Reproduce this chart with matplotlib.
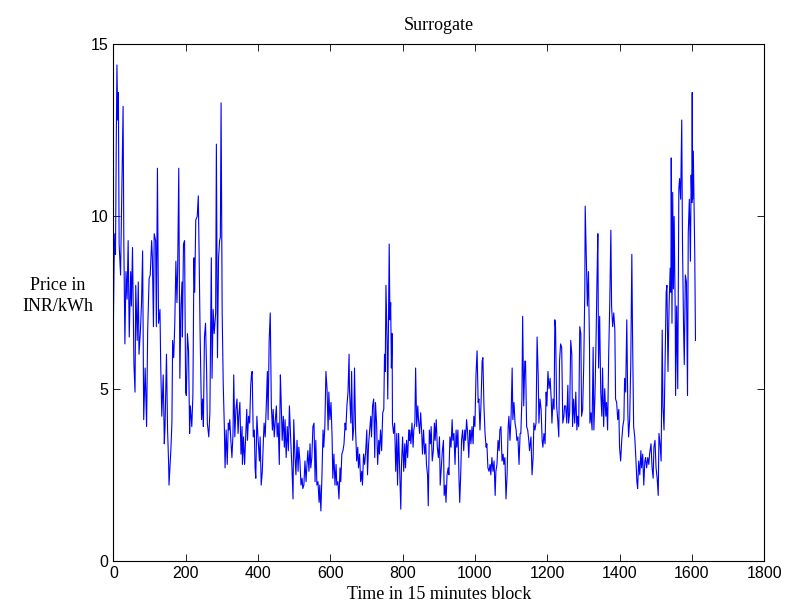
import matplotlib
matplotlib.use("Agg")
import matplotlib.pyplot as plt

# %%
# time block / price pairs, segment by segment
block_a = [0, 2, 4, 6, 8, 10, 12, 14, 16, 20, 24, 27, 29, 32, 35, 38, 41, 44, 48, 50,
           53, 57, 60, 62, 66, 69, 71, 75, 78, 81, 84, 88, 92, 95, 99, 102, 106, 108, 111, 113,
           117, 119, 122, 125, 129, 131, 134, 138, 141, 143, 147, 150, 153, 154]
price_a = [6.7, 8.6, 9.5, 8.9, 12.0, 14.4, 12.8, 13.6, 9.2, 8.3, 11.0, 13.2, 9.3, 6.3, 8.4, 7.6, 9.3, 6.5, 8.4, 7.4,
           9.1, 5.7, 4.9, 8.0, 6.4, 8.1, 6.0, 6.7, 7.5, 9.0, 4.1, 5.6, 3.9, 6.7, 8.2, 8.3, 9.3, 8.8, 6.8, 9.5,
           9.3, 6.8, 11.4, 6.9, 7.3, 5.7, 4.2, 5.4, 3.4, 3.9, 6.0, 3.8, 2.8, 2.2]

block_b = [159, 162, 164, 167, 170, 173, 176, 178, 181, 184, 187, 190, 191, 194, 197, 200, 202, 205, 208, 211,
           213, 217, 220, 223, 225, 228, 232, 235, 237, 240, 244, 247, 249, 252, 255, 258, 260, 264, 267, 271,
           273, 276, 279, 283, 285, 288, 291, 294, 296, 298, 301, 304, 307, 309, 312, 315, 318, 320]
price_b = [3.2, 4.0, 6.4, 5.9, 6.9, 8.7, 7.5, 8.5, 11.4, 5.3, 7.4, 8.1, 6.5, 9.2, 9.3, 4.9, 4.8, 6.6, 6.1, 3.7,
           4.5, 3.9, 4.8, 8.8, 7.8, 9.9, 10.0, 10.6, 9.1, 6.6, 4.1, 4.7, 3.9, 6.5, 6.9, 5.5, 4.0, 3.6, 4.3, 8.8,
           5.3, 7.3, 6.6, 7.2, 12.1, 5.9, 8.8, 9.3, 9.4, 13.3, 7.2, 5.1, 3.9, 2.7, 3.8, 2.8, 4.0, 3.8]

block_c = [322, 325, 328, 331, 333, 336, 339, 342, 345, 347, 350, 353, 356, 357, 360, 363, 366, 369, 371, 374,
           377, 380, 382, 384, 387, 390, 392, 394, 397, 400, 404, 406, 409, 412, 415, 417, 420, 423, 426, 428,
           431, 434, 437, 440, 442, 445, 448, 451, 453, 456, 459, 462, 464, 467, 470, 473, 475, 478, 481, 484, 487]
price_c = [4.1, 3.5, 3.0, 3.7, 5.4, 3.6, 4.4, 4.7, 3.7, 4.2, 4.6, 3.1, 3.9, 2.8, 3.6, 2.8, 3.6, 4.4, 3.5, 4.2,
           4.0, 5.1, 5.4, 5.5, 3.6, 3.8, 2.7, 2.4, 4.2, 3.6, 2.9, 3.6, 2.2, 2.6, 3.5, 4.0, 3.6, 4.5, 5.5, 4.1,
           6.4, 7.2, 4.5, 3.8, 4.4, 3.6, 4.1, 4.5, 3.6, 4.0, 2.8, 5.4, 4.7, 3.5, 4.2, 3.3, 4.1, 3.0, 3.9, 3.2, 4.5]

block_d = [491, 494, 497, 499, 502, 505, 508, 511, 513, 516, 519, 522, 524, 527, 530, 533, 535, 538, 541, 544,
           546, 549, 552, 555, 558, 560, 563, 566, 569, 571, 574, 577, 580, 582, 585, 588, 591, 594, 596, 599,
           602, 605, 607, 610, 613, 616, 618, 621, 624, 627, 629, 632, 635, 638, 641, 643, 646, 649, 652, 653]
price_d = [3.4, 2.7, 1.8, 4.1, 3.1, 2.5, 3.5, 2.6, 3.3, 2.9, 2.2, 2.4, 2.1, 2.2, 2.9, 2.3, 2.7, 3.2, 2.6, 3.4,
           2.7, 3.0, 3.9, 4.0, 2.3, 3.5, 2.2, 2.3, 1.7, 2.2, 1.45, 2.5, 3.8, 3.3, 3.9, 5.5, 5.0, 3.8, 4.9, 4.1,
           4.6, 3.6, 2.4, 3.1, 2.2, 2.8, 2.2, 2.3, 1.8, 2.7, 2.3, 3.1, 3.2, 3.4, 4.0, 3.8, 4.5, 4.9, 6.0, 5.0]

block_e = [657, 659, 662, 665, 667, 670, 673, 676, 678, 681, 684, 687, 689, 692, 695, 698, 701, 703, 706, 709,
           712, 714, 717, 720, 723, 725, 728, 731, 734, 736, 739, 742, 745, 748, 750, 752, 754, 757, 759, 761,
           763, 765, 767, 769, 771, 772, 775, 778, 781, 784, 786, 789, 792, 795, 797, 800, 803, 806, 808, 811,
           814, 817, 819]
price_e = [4.0, 5.5, 3.5, 3.9, 5.6, 3.8, 2.9, 3.3, 2.7, 3.1, 2.3, 2.6, 2.2, 3.1, 2.8, 3.2, 3.8, 2.5, 3.4, 3.8,
           4.2, 3.6, 4.5, 4.7, 3.0, 4.6, 4.0, 2.8, 3.5, 3.1, 3.8, 3.2, 4.3, 4.4, 6.0, 5.5, 8.0, 6.4, 4.7, 7.1,
           9.2, 7.0, 7.5, 5.6, 6.6, 4.0, 3.7, 4.0, 2.6, 3.7, 2.2, 3.7, 2.6, 1.5, 2.8, 3.6, 2.6, 3.4, 2.7, 3.5,
           3.0, 3.8, 3.5]

block_f = [820, 823, 826, 829, 831, 834, 836, 839, 842, 844, 847, 850, 853, 855, 858, 861, 864, 866, 869, 871,
           874, 877, 879, 882, 885, 888, 890, 893, 896, 899, 902, 904, 907, 910, 913, 915, 918, 920, 923, 926,
           928, 931, 934, 937, 939, 942, 945, 948, 950, 953, 956, 958, 961, 963, 966, 969, 972, 974, 977, 980,
           983, 985]
price_f = [3.8, 3.4, 4.0, 3.3, 3.8, 4.0, 5.6, 3.9, 4.5, 4.1, 3.7, 4.3, 3.7, 3.1, 3.8, 3.1, 3.4, 2.8, 2.5, 1.6,
           3.8, 3.4, 3.9, 2.9, 3.2, 4.0, 3.5, 4.1, 3.3, 3.0, 3.6, 2.2, 2.7, 3.2, 3.5, 1.9, 2.2, 1.7, 2.5, 2.7,
           2.5, 3.6, 3.3, 4.1, 3.5, 3.7, 2.8, 3.8, 3.3, 3.8, 2.4, 1.7, 2.6, 3.5, 3.8, 3.2, 3.8, 3.5, 4.1, 3.7,
           3.0, 3.6]

block_g = [986, 989, 992, 995, 997, 1000, 1003, 1006, 1009, 1011, 1014, 1017, 1020, 1022, 1025, 1028, 1031, 1033, 1036, 1039,
           1042, 1044, 1047, 1050, 1053, 1056, 1058, 1061, 1064, 1067, 1069, 1072, 1075, 1078, 1080, 1083, 1086, 1089, 1092, 1094,
           1097, 1100, 1103, 1105, 1108, 1111, 1114, 1116, 1119, 1122, 1125, 1127, 1130, 1132, 1135, 1138, 1140, 1143, 1146, 1149,
           1151]
price_g = [3.8, 3.4, 3.9, 3.4, 4.2, 3.9, 5.4, 6.1, 4.6, 4.7, 3.8, 4.6, 5.8, 5.9, 4.5, 3.7, 3.3, 3.4, 2.7, 2.6,
           2.8, 2.5, 3.0, 2.6, 2.9, 1.9, 2.6, 2.8, 3.5, 3.2, 3.8, 3.9, 2.9, 3.1, 2.8, 3.0, 1.8, 2.5, 3.9, 4.2,
           3.5, 4.2, 5.6, 4.1, 4.6, 4.0, 3.8, 3.5, 3.6, 2.8, 3.7, 3.7, 4.7, 7.1, 4.5, 5.8, 5.8, 3.9, 3.8, 3.5,
           3.2]

block_h = [1155, 1158, 1161, 1163, 1166, 1169, 1172, 1175, 1177, 1180, 1183, 1186, 1188, 1191, 1194, 1197, 1199, 1202, 1205, 1208,
           1211, 1213, 1216, 1219, 1221, 1223, 1226, 1229, 1232, 1234, 1237, 1240, 1243, 1246, 1248, 1251, 1254, 1257, 1259, 1262,
           1265, 1268, 1270, 1273, 1276, 1279, 1282, 1284, 1287, 1290, 1293, 1295, 1298, 1301, 1304, 1305, 1308, 1311, 1314, 1317,
           1318]
price_h = [3.6, 2.5, 3.0, 4.0, 3.8, 4.0, 6.5, 5.4, 4.0, 4.7, 4.4, 3.5, 3.3, 3.7, 3.4, 4.9, 4.5, 5.5, 5.0, 5.3,
           4.7, 4.0, 4.7, 4.4, 7.0, 6.8, 4.5, 4.1, 3.6, 5.8, 6.3, 6.2, 4.0, 4.2, 4.5, 4.5, 4.0, 5.1, 4.0, 4.3,
           6.4, 6.0, 3.9, 4.7, 4.0, 4.9, 3.8, 4.2, 3.9, 6.8, 6.6, 4.2, 4.4, 5.7, 7.9, 10.3, 8.8, 7.4, 8.4, 6.2,
           4.0]

block_i = [1321, 1324, 1327, 1329, 1332, 1335, 1338, 1340, 1342, 1345, 1348, 1351, 1353, 1356, 1359, 1362, 1364, 1367, 1370, 1373,
           1376, 1378, 1381, 1384, 1387, 1389, 1392, 1395, 1398, 1400, 1403, 1406, 1409, 1412, 1414, 1417, 1420, 1423, 1425, 1428,
           1431, 1434, 1436, 1439, 1442, 1445, 1448, 1450, 1453, 1456, 1459, 1461, 1464, 1467, 1470, 1472, 1475, 1478, 1481, 1483]
price_i = [4.3, 3.8, 6.2, 3.8, 4.8, 6.4, 8.4, 9.5, 5.6, 7.1, 4.9, 4.2, 5.6, 3.9, 5.0, 4.2, 4.6, 3.8, 6.0, 7.5,
           9.6, 7.4, 6.8, 7.2, 6.7, 4.7, 4.6, 4.1, 4.4, 3.3, 2.9, 3.5, 3.9, 4.1, 5.3, 4.9, 7.0, 4.3, 3.6, 4.1,
           5.7, 8.9, 6.5, 3.9, 3.6, 3.0, 2.3, 2.1, 2.9, 2.5, 3.2, 2.7, 3.1, 2.2, 2.9, 3.0, 2.7, 3.0, 2.8, 3.1]

block_j = [1487, 1490, 1493, 1495, 1498, 1501, 1504, 1507, 1509, 1512, 1515, 1518, 1520, 1523, 1526, 1529, 1531, 1534, 1537, 1540,
           1542, 1543, 1545, 1547, 1549, 1551, 1554, 1555, 1558, 1561, 1564, 1566, 1569, 1572, 1574, 1577, 1579, 1582, 1585, 1588,
           1590, 1593, 1596, 1598, 1600, 1601, 1602, 1604, 1606, 1608, 1610]
price_j = [3.4, 2.7, 2.4, 3.3, 3.5, 2.7, 2.4, 1.9, 3.7, 3.4, 2.9, 6.7, 4.5, 3.8, 5.8, 7.8, 8.0, 5.5, 7.4, 8.5,
           7.8, 11.7, 6.9, 10.7, 7.9, 10.0, 7.2, 4.8, 7.4, 5.0, 10.8, 11.1, 10.5, 12.8, 9.3, 6.8, 5.7, 8.3, 8.1, 4.8,
           9.5, 10.5, 8.7, 11.2, 10.4, 13.6, 10.5, 11.9, 10.3, 8.9, 6.4]

blocks = (block_a + block_b + block_c + block_d + block_e
          + block_f + block_g + block_h + block_i + block_j)
prices = (price_a + price_b + price_c + price_d + price_e
          + price_f + price_g + price_h + price_i + price_j)

x_ticks = [0, 200, 400, 600, 800, 1000, 1200, 1400, 1600, 1800]
y_ticks = [0, 5, 10, 15]

# %%
plt.rcParams["font.family"] = ["Liberation Sans", "DejaVu Sans"]
serif = ["Liberation Serif", "DejaVu Serif"]

fig = plt.figure(figsize=(7.87, 6.15), dpi=100)
ax = fig.add_axes([0.144, 0.088, 0.827, 0.840])
ax.plot(blocks, prices, '-', c=(0, 0, 1), lw=0.8)

ax.set_xlim(0, 1800)
ax.set_ylim(0, 15)
ax.set_xticks(x_ticks)
ax.set_yticks(y_ticks)
ax.tick_params(direction="in", top=True, right=True, labelsize=11.5, length=5, width=0.6)
for s in ax.spines.values():
    s.set_linewidth(0.8)

ax.set_title("Surrogate", family=serif, fontsize=13, pad=10)
ax.set_xlabel("Time in 15 minutes block", family=serif, fontsize=13, labelpad=4)
ax.text(-0.085, 0.513, "Price in\nINR/kWh", transform=ax.transAxes, family=serif,
        fontsize=13, ha="center", va="center", linespacing=1.3)

plt.savefig("out.png", dpi=100)
